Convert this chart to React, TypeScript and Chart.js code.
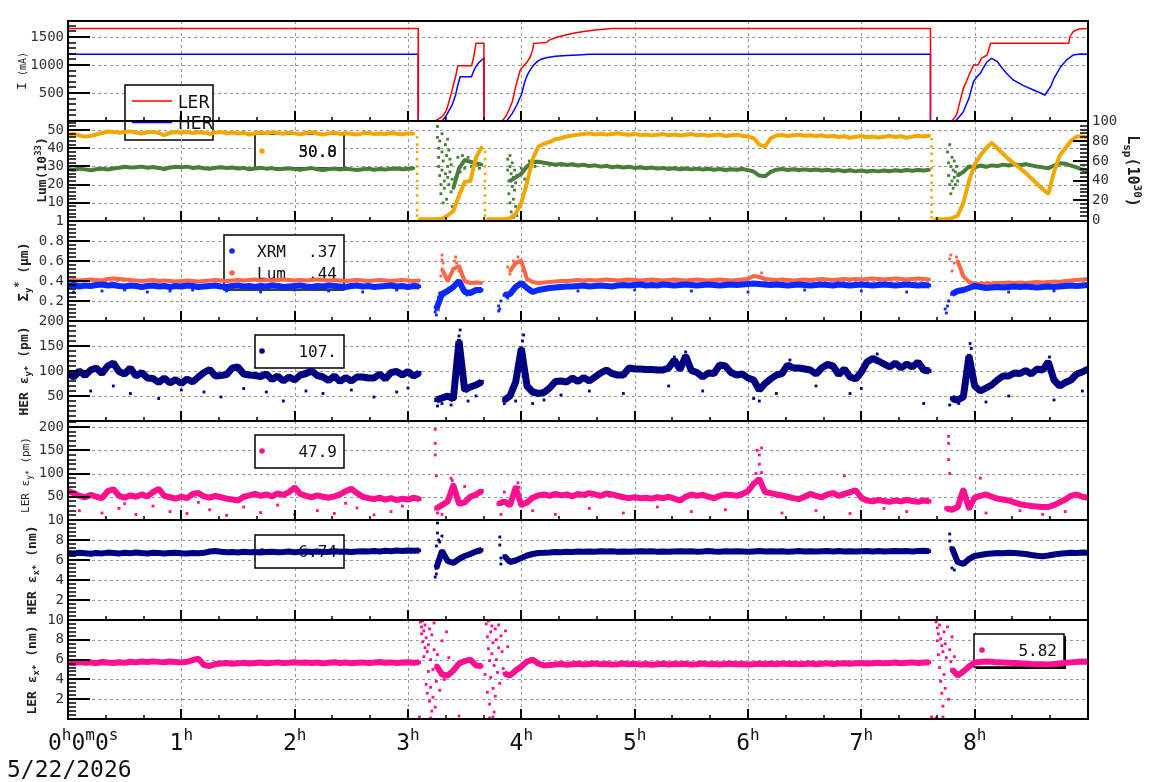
import React, { useEffect, useRef } from 'react';
import { Chart, registerables } from 'chart.js';

Chart.register(...registerables);

// ---------------------------------------------------------------- layout
const W = 1160;
const H = 782;
const PLOT_RIGHT = 1088;
const AXIS_W = 68;
const STEP_H = 0.05; // spacing of the sampled value lists (hours)

// ---------------------------------------------------------------- axis text
const HOUR_TICKS = [1, 2, 3, 4, 5, 6, 7, 8];
const HOUR_LABELS = ['1', '2', '3', '4', '5', '6', '7', '8'];
const START_LABEL = ['0', 'h', '0', 'm', '0', 's'];
const DATE_LABEL = '5/22/2026';

// ---------------------------------------------------------------- legend text
const CURRENT_NAMES = ['LER', 'HER'];
const LUM_LEGEND = ['50.0', '30.8'];
const SIZE_NAMES = ['XRM', 'Lum'];
const SIZE_LEGEND = ['.37', '.44'];
const HER_EY_LEGEND = '107.';
const LER_EY_LEGEND = '47.9';
const HER_EX_LEGEND = '6.74';
const LER_EX_LEGEND = '5.82';

// ---------------------------------------------------------------- panel 1: beam currents [hour, mA]
const LER_CURRENT = [
  [0, 1650], [3.09, 1650], [3.09, 0], [3.24, 0], [3.27, 40], [3.3, 77], [3.32, 130], [3.34, 196], [3.355, 300],
  [3.37, 405], [3.385, 520], [3.4, 643], [3.41, 720], [3.42, 791], [3.43, 890], [3.44, 988], [3.56, 988],
  [3.57, 1060], [3.58, 1149], [3.59, 1270], [3.6, 1387], [3.67, 1387], [3.67, 0], [3.83, 0], [3.85, 50],
  [3.87, 107], [3.895, 220], [3.92, 345], [3.935, 480], [3.95, 613], [3.97, 760], [3.99, 911], [4.02, 988],
  [4.05, 1050], [4.08, 1149], [4.1, 1270], [4.11, 1387], [4.22, 1400], [4.25, 1450], [4.32, 1500], [4.4, 1540],
  [4.47, 1570], [4.55, 1600], [4.65, 1625], [4.8, 1650], [7.61, 1650], [7.61, 0], [7.8, 0], [7.84, 107],
  [7.87, 345], [7.9, 583], [7.93, 720], [7.95, 821], [7.99, 1000], [8.03, 1000], [8.06, 1119], [8.11, 1179],
  [8.14, 1387], [8.83, 1387], [8.84, 1506], [8.87, 1595], [8.92, 1643], [9, 1650],
];
const HER_CURRENT = [
  [0, 1190], [3.09, 1190], [3.09, 0], [3.3, 0], [3.32, 50], [3.34, 107], [3.365, 200], [3.39, 286], [3.405, 380],
  [3.42, 464], [3.43, 560], [3.44, 643], [3.45, 720], [3.46, 791], [3.56, 791], [3.575, 870], [3.59, 940],
  [3.605, 990], [3.62, 1030], [3.645, 1080], [3.67, 1119], [3.67, 0], [3.87, 0], [3.895, 70], [3.92, 137],
  [3.94, 210], [3.96, 286], [3.98, 380], [4.0, 464], [4.015, 580], [4.03, 702], [4.045, 780], [4.06, 851],
  [4.085, 930], [4.11, 1000], [4.14, 1060], [4.17, 1100], [4.22, 1130], [4.3, 1155], [4.4, 1170], [4.5, 1180],
  [4.6, 1190], [7.61, 1190], [7.61, 0], [7.83, 0], [7.87, 90], [7.9, 166], [7.925, 290], [7.95, 405],
  [7.97, 560], [7.99, 702], [8.02, 790], [8.05, 851], [8.08, 960], [8.11, 1060], [8.15, 1119], [8.2, 1060],
  [8.24, 950], [8.28, 851], [8.34, 732], [8.43, 631], [8.52, 554], [8.62, 464], [8.67, 613], [8.7, 762],
  [8.73, 870], [8.76, 970], [8.81, 1089], [8.87, 1179], [8.93, 1196], [9, 1190],
];

// ---------------------------------------------------------------- panel 2: luminosity, segments [startHour, values every STEP_H]
const LUM_YELLOW = [
  [0, [47.3, 47.8, 47.0, 46.4, 46.8, 47.6, 48.4, 49.2, 49.0, 48.6,
    48.9, 49.3, 48.7, 48.1, 48.8, 49.0, 48.4, 47.2, 48.5, 48.9,
    48.6, 49.1, 48.3, 48.8, 48.5, 47.9, 48.6, 49.0, 48.3, 48.7,
    48.1, 48.5, 47.6, 48.3, 48.7, 48.2, 48.9, 48.4, 48.0, 48.6,
    48.2, 47.7, 48.4, 48.8, 48.1, 47.5, 48.2, 48.6, 47.9, 48.3,
    48.0, 47.6, 48.2, 48.5, 47.8, 48.1, 47.9, 48.4, 48.0, 47.7,
    48.2, 48.0]],
  [3.1, [1, 1, 1, 1, 1.3, 3, 5.5, 14, 21.5, 22, 35, 40.5]],
  [3.7, [1, 1, 1, 1, 1.5, 4, 10, 21, 34, 41, 42.5, 43.5, 45, 45.5, 46.5, 47, 47.5,
    47.8, 48.2, 47.6, 48.0, 47.5, 47.9, 48.3, 47.7, 47.4, 47.9,
    47.3, 47.6, 47.1, 47.5, 47.8, 47.2, 47.6, 47.0, 47.4, 47.8,
    47.2, 47.5, 46.9, 47.3, 47.6, 46.8, 47.2, 47.5, 46.9, 46.5,
    45.5, 42.0, 41.0, 45.5, 47.0, 47.3, 46.8, 47.2, 47.5, 46.9,
    47.2, 46.8, 47.1, 46.5, 46.9, 46.2, 46.6, 45.8, 46.3, 46.7,
    46.1, 46.5, 45.9, 46.3, 46.8, 46.2, 46.6, 45.8, 46.4, 46.9,
    46.5, 47.0]],
  [7.65, [1, 1, 1, 1.5, 3, 10, 22, 31, 36, 40, 43, 40, 37, 34, 31.5, 29, 26.5, 23.5, 20.5, 17.5,
    15, 27, 36, 40, 44, 46.5, 46.5, 46]],
];
const LUM_YELLOW_DROPS = [
  [3.08, 46], [3.08, 42], [3.08, 38], [3.08, 34], [3.08, 30], [3.08, 26], [3.08, 22], [3.08, 18], [3.08, 14],
  [3.08, 10], [3.08, 6], [3.08, 3], [3.68, 38], [3.68, 34], [3.68, 30], [3.68, 26], [3.68, 22], [3.68, 18],
  [3.68, 14], [3.68, 10], [3.68, 6], [3.68, 3], [7.62, 45], [7.62, 41], [7.62, 37], [7.62, 33], [7.62, 29],
  [7.62, 25], [7.62, 21], [7.62, 17], [7.62, 13], [7.62, 9], [7.62, 5], [7.62, 2],
];
const LUM_GREEN = [
  [0, [28.6, 28.2, 28.9, 28.4, 27.9, 28.5, 28.8, 28.3, 28.9, 29.3,
    29.8, 29.4, 29.6, 29.9, 29.3, 29.7, 29.2, 28.6, 29.4, 29.8,
    29.5, 29.9, 29.2, 29.6, 29.0, 28.7, 29.3, 29.6, 29.1, 29.4,
    28.9, 29.2, 28.5, 28.9, 29.3, 28.8, 29.1, 28.4, 28.7, 29.0,
    28.6, 28.2, 28.8, 29.1, 28.5, 28.1, 28.6, 28.9, 28.3, 28.7,
    28.4, 28.0, 28.5, 28.8, 28.2, 28.6, 28.3, 28.7, 28.9, 28.5,
    28.8, 29.0]],
  [3.4, [18, 29, 33.5, 32.6, 31.7, 31]],
  [3.9, [22, 24, 26, 30, 32.5, 32.6, 32, 31.5, 31,
    31.3, 30.8, 31.2, 30.5, 30.9, 30.2, 30.6, 29.9, 30.3, 29.6,
    30.0, 29.4, 29.8, 29.2, 29.6, 29.0, 29.4, 28.8, 29.2, 28.6,
    29.0, 28.5, 28.9, 28.4, 28.8, 28.3, 28.7, 28.2, 28.6, 28.1,
    28.5, 28.2, 28.6, 28.0, 27.2, 25.0, 24.6, 27.0, 28.2, 28.6,
    28.1, 28.5, 28.0, 28.4, 27.9, 28.3, 27.8, 28.2, 27.6, 28.0,
    27.4, 27.9, 27.3, 27.8, 27.2, 27.7, 27.3, 27.8, 27.4, 27.9,
    27.5, 28.0, 27.6, 28.1, 27.8, 28.2]],
  [7.85, [25, 27, 30, 29.5, 30.5, 29.8, 30.6, 30.2, 31, 30.5, 31.2, 30.7, 31.3, 30.6, 30.0, 29.5,
    29.0, 30.5, 31.7, 31.5, 30.5, 29.5, 28.2, 27.3]],
];
const LUM_GREEN_SCATTER = [
  [3.26, 52], [3.26, 46], [3.27, 40], [3.27, 35], [3.27, 30], [3.28, 44], [3.28, 25], [3.29, 20], [3.29, 15],
  [3.30, 38], [3.30, 28], [3.30, 48], [3.31, 10], [3.31, 33], [3.32, 22], [3.32, 18], [3.33, 42], [3.33, 26],
  [3.34, 36], [3.34, 12], [3.35, 30], [3.35, 24], [3.35, 45], [3.36, 39], [3.36, 20], [3.37, 34], [3.37, 27],
  [3.38, 16], [3.38, 31], [3.39, 23], [3.39, 8], [3.42, 24], [3.44, 35], [3.46, 27], [3.48, 36], [3.5, 29],
  [3.53, 35], [3.56, 30], [3.6, 34], [3.63, 29],
  [3.88, 34], [3.88, 28], [3.89, 22], [3.89, 15], [3.90, 30], [3.90, 10], [3.90, 36], [3.91, 26], [3.91, 5],
  [3.92, 32], [3.92, 19], [3.93, 24], [3.93, 12], [3.93, 2], [3.94, 28], [3.94, 17], [3.95, 21], [3.95, 8],
  [3.96, 25], [3.96, 3], [4.0, 29], [4.03, 23], [4.07, 33], [4.12, 30],
  [7.76, 38], [7.77, 32], [7.77, 25], [7.78, 42], [7.78, 20], [7.79, 30], [7.79, 15], [7.80, 35], [7.80, 22],
  [7.81, 28], [7.81, 18], [7.82, 33], [7.82, 24], [7.83, 27], [7.83, 20], [7.84, 30], [7.85, 22], [7.86, 26],
];

// ---------------------------------------------------------------- panel 3: vertical beam size (µm)
const SIZE_XRM = [
  [0, [0.35, 0.36, 0.345, 0.355, 0.35, 0.36, 0.365, 0.355, 0.36, 0.35,
    0.345, 0.355, 0.35, 0.34, 0.35, 0.355, 0.345, 0.35, 0.34, 0.35,
    0.345, 0.355, 0.35, 0.34, 0.345, 0.35, 0.355, 0.345, 0.34, 0.35,
    0.355, 0.345, 0.35, 0.34, 0.35, 0.345, 0.355, 0.35, 0.34, 0.345,
    0.35, 0.355, 0.345, 0.34, 0.35, 0.345, 0.355, 0.35, 0.345, 0.34,
    0.35, 0.355, 0.345, 0.35, 0.34, 0.345, 0.35, 0.355, 0.345, 0.35,
    0.34, 0.35, 0.345]],
  [3.25, [0.12, 0.27, 0.3, 0.34, 0.4, 0.29, 0.28, 0.31, 0.31]],
  [3.85, [0.26, 0.27, 0.34, 0.38, 0.33, 0.29, 0.31, 0.32, 0.33, 0.335, 0.34, 0.345,
    0.345, 0.35, 0.355, 0.345, 0.35, 0.355, 0.35, 0.345, 0.355, 0.36,
    0.355, 0.36, 0.365, 0.355, 0.36, 0.355, 0.365, 0.36, 0.355, 0.36,
    0.365, 0.36, 0.355, 0.36, 0.365, 0.36, 0.355, 0.36, 0.365, 0.36,
    0.365, 0.37, 0.375, 0.37, 0.365, 0.36, 0.365, 0.36, 0.355, 0.36,
    0.365, 0.36, 0.355, 0.36, 0.365, 0.36, 0.355, 0.365, 0.36, 0.355,
    0.36, 0.365, 0.36, 0.355, 0.36, 0.365, 0.36, 0.355, 0.36, 0.365,
    0.36, 0.355, 0.36, 0.355]],
  [7.8, [0.27, 0.3, 0.31, 0.33, 0.35, 0.34, 0.33, 0.335, 0.34, 0.335, 0.34, 0.345, 0.34, 0.345, 0.34,
    0.335, 0.34, 0.345, 0.34, 0.345, 0.35, 0.355, 0.35, 0.355, 0.36]],
];
const SIZE_LUM = [
  [0, [0.405, 0.41, 0.405, 0.41, 0.415, 0.41, 0.405, 0.42, 0.425, 0.42,
    0.415, 0.41, 0.405, 0.4, 0.405, 0.41, 0.4, 0.405, 0.4, 0.395,
    0.4, 0.405, 0.4, 0.395, 0.4, 0.405, 0.41, 0.405, 0.4, 0.405,
    0.41, 0.405, 0.41, 0.415, 0.405, 0.41, 0.405, 0.41, 0.415, 0.41,
    0.405, 0.41, 0.405, 0.41, 0.415, 0.41, 0.405, 0.41, 0.405, 0.4,
    0.405, 0.41, 0.405, 0.4, 0.405, 0.41, 0.405, 0.4, 0.405, 0.41,
    0.405, 0.4, 0.405]],
  [3.3, [0.52, 0.4, 0.52, 0.55, 0.4, 0.38, 0.385, 0.38]],
  [3.9, [0.5, 0.58, 0.6, 0.42, 0.39, 0.38, 0.385, 0.39, 0.395, 0.4, 0.4,
    0.405, 0.41, 0.405, 0.41, 0.405, 0.41, 0.415, 0.41, 0.405, 0.41,
    0.415, 0.41, 0.405, 0.41, 0.415, 0.41, 0.405, 0.41, 0.415, 0.41,
    0.405, 0.41, 0.415, 0.41, 0.405, 0.41, 0.415, 0.41, 0.405, 0.41,
    0.415, 0.42, 0.45, 0.44, 0.42, 0.415, 0.41, 0.415, 0.41, 0.405,
    0.41, 0.415, 0.41, 0.415, 0.42, 0.415, 0.41, 0.415, 0.42, 0.415,
    0.42, 0.415, 0.42, 0.425, 0.42, 0.415, 0.42, 0.425, 0.42, 0.415,
    0.42, 0.425, 0.42, 0.415]],
  [7.85, [0.6, 0.45, 0.39, 0.37, 0.37, 0.375, 0.375, 0.38, 0.38, 0.385, 0.38, 0.385, 0.38, 0.385,
    0.39, 0.385, 0.39, 0.395, 0.39, 0.4, 0.405, 0.41, 0.415, 0.42]],
];
const SIZE_XRM_SCATTER = [
  [0.05, 0.29], [0.3, 0.3], [0.5, 0.31], [0.7, 0.29], [0.9, 0.3], [1.1, 0.31], [1.4, 0.3], [1.7, 0.29],
  [2.0, 0.31], [2.3, 0.3], [2.6, 0.29], [2.9, 0.31], [3.24, 0.09], [3.24, 0.14], [3.25, 0.06], [3.26, 0.18],
  [3.27, 0.24], [3.28, 0.28], [3.29, 0.22], [3.32, 0.26], [3.36, 0.33], [3.42, 0.37], [3.47, 0.32],
  [3.52, 0.26], [3.58, 0.3], [3.8, 0.1], [3.8, 0.15], [3.81, 0.12], [3.82, 0.2], [3.88, 0.23], [3.93, 0.32],
  [4.03, 0.36], [4.5, 0.3], [5.0, 0.31], [5.5, 0.3], [6.0, 0.29], [6.5, 0.31], [7.0, 0.3], [7.4, 0.29],
  [7.74, 0.12], [7.75, 0.08], [7.76, 0.15], [7.77, 0.2], [8.3, 0.29], [8.7, 0.3],
];
const SIZE_LUM_SCATTER = [
  [3.27, 0.11], [3.28, 0.24], [3.29, 0.45], [3.3, 0.61], [3.3, 0.66], [3.31, 0.58], [3.33, 0.45], [3.37, 0.44],
  [3.39, 0.5], [3.41, 0.6], [3.42, 0.64], [3.43, 0.58], [3.45, 0.5], [3.47, 0.46], [3.88, 0.54], [3.9, 0.47],
  [3.93, 0.6], [3.97, 0.64], [3.98, 0.6], [4.02, 0.5], [6.12, 0.48], [7.78, 0.62], [7.79, 0.66], [7.8, 0.5],
  [7.82, 0.58], [7.84, 0.64], [7.86, 0.55], [7.88, 0.48],
];

// ---------------------------------------------------------------- panel 4: HER vertical emittance (pm)
const HER_EY = [
  [0, [95, 88, 100, 91, 102, 106, 95, 110, 116, 99,
    94, 106, 90, 97, 86, 85, 77, 86, 76, 83,
    75, 84, 78, 88, 97, 103, 90, 91, 93, 106,
    108, 94, 92, 91, 89, 94, 83, 90, 80, 88,
    82, 92, 95, 100, 91, 88, 81, 90, 79, 87,
    80, 88, 88, 86, 86, 94, 84, 97, 99, 92,
    99, 90, 96]],
  [3.25, [42, 46, 50, 44, 160, 62, 68, 72, 78]],
  [3.85, [42, 50, 78, 145, 70, 58, 55, 57, 66, 79, 80,
    78, 86, 79, 87, 80, 88, 96, 102, 95, 92,
    92, 106, 104, 104, 103, 103, 102, 102, 106, 122,
    103, 130, 101, 97, 88, 96, 95, 112, 110, 97,
    92, 94, 86, 82, 62, 75, 84, 92, 95, 112,
    106, 106, 104, 102, 94, 106, 113, 110, 93, 104,
    88, 84, 98, 118, 125, 120, 114, 108, 116, 106,
    114, 108, 118, 102, 100]],
  [7.8, [45, 42, 48, 130, 70, 60, 66, 72, 82, 90, 90, 96, 95, 101, 94, 104, 102, 118, 82, 70, 77, 82, 94, 98, 104]],
];
const HER_EY_SCATTER = [
  [0.2, 60], [0.4, 70], [0.55, 55], [0.8, 45], [1.0, 62], [1.2, 58], [1.35, 48], [1.55, 65], [1.75, 58],
  [1.9, 40], [2.1, 60], [2.25, 55], [2.5, 62], [2.7, 48], [2.9, 58], [3.0, 66], [3.26, 30], [3.3, 35],
  [3.38, 32], [3.43, 100], [3.44, 130], [3.45, 170], [3.46, 182], [3.46, 140], [3.47, 115], [3.53, 40],
  [3.6, 50], [3.85, 35], [3.95, 40], [4.01, 160], [4.02, 172], [4.02, 140], [4.1, 35], [4.2, 42], [4.35, 52],
  [4.6, 60], [4.9, 55], [5.3, 70], [5.35, 128], [5.45, 138], [5.6, 60], [6.05, 45], [6.1, 40], [6.25, 55],
  [6.37, 122], [6.6, 70], [6.9, 55], [7.0, 65], [7.14, 134], [7.55, 35], [7.78, 32], [7.86, 35], [7.95, 120],
  [7.96, 155], [7.97, 145], [8.1, 38], [8.3, 50], [8.66, 128], [8.7, 42], [8.95, 60],
];

// ---------------------------------------------------------------- panel 5: LER vertical emittance (pm)
const LER_EY = [
  [0, [62, 58, 52, 49, 54, 50, 47, 62, 66, 52,
    48, 53, 50, 55, 51, 60, 67, 52, 49, 46,
    50, 47, 56, 58, 51, 48, 52, 49, 46, 44,
    42, 50, 53, 56, 52, 55, 51, 57, 54, 60,
    70, 56, 52, 49, 53, 50, 48, 51, 55, 62,
    67, 58, 50, 47, 45, 48, 44, 47, 43, 46,
    44, 48, 45]],
  [3.25, [25, 32, 40, 75, 35, 38, 50, 55, 62]],
  [3.8, [35, 40, 32, 70, 32, 38, 48, 53, 55,
    52, 56, 53, 55, 51, 56, 54, 58, 55, 52,
    57, 55, 52, 49, 47, 49, 47, 48, 46, 49,
    47, 50, 46, 42, 50, 55, 52, 54, 50, 47,
    52, 55, 54, 52, 56, 62, 78, 88, 60, 58,
    55, 53, 50, 47, 45, 50, 56, 52, 49, 55,
    58, 52, 56, 60, 64, 48, 42, 40, 43, 41,
    39, 42, 40, 43, 41, 39, 42, 40]],
  [7.75, [25, 22, 28, 65, 25, 48, 52, 55, 50, 46, 44, 42, 38, 34, 32, 30, 29, 28, 28, 32, 38, 44, 52, 55, 50, 48]],
];
const LER_EY_SCATTER = [
  [0.1, 20], [0.3, 15], [0.45, 25], [0.5, 35], [0.6, 12], [0.75, 30], [0.9, 18], [1.05, 14], [1.15, 38],
  [1.25, 22], [1.4, 10], [1.55, 28], [1.7, 16], [1.85, 32], [2.0, 12], [2.2, 20], [2.35, 14], [2.45, 36],
  [2.55, 26], [2.7, 11], [2.85, 18], [2.95, 30], [3.24, 195], [3.24, 165], [3.24, 140], [3.25, 95], [3.26, 15],
  [3.3, 12], [3.38, 90], [3.39, 85], [3.5, 72], [3.82, 12], [3.85, 60], [3.97, 80], [3.98, 70], [4.1, 20],
  [4.3, 12], [4.6, 25], [4.9, 15], [5.2, 28], [5.5, 18], [5.8, 22], [6.07, 100], [6.08, 150], [6.1, 140],
  [6.1, 120], [6.12, 155], [6.12, 102], [6.3, 15], [6.6, 20], [6.85, 95], [6.9, 14], [7.2, 25], [7.4, 18],
  [7.77, 180], [7.77, 165], [7.77, 130], [7.78, 100], [8.05, 90], [8.1, 15], [8.4, 20], [8.6, 12], [8.8, 18],
];

// ---------------------------------------------------------------- panel 6: HER horizontal emittance (nm)
const HER_EX = [
  [0, [6.7, 6.65, 6.72, 6.68, 6.62, 6.7, 6.66, 6.74, 6.7, 6.64,
    6.72, 6.68, 6.75, 6.7, 6.66, 6.72, 6.69, 6.64, 6.7, 6.73,
    6.68, 6.66, 6.71, 6.67, 6.72, 6.85, 6.9, 6.82, 6.78, 6.8,
    6.76, 6.82, 6.78, 6.8, 6.75, 6.79, 6.83, 6.77, 6.8, 6.84,
    6.78, 6.82, 6.86, 6.8, 6.84, 6.79, 6.82, 6.87, 6.83, 6.85,
    6.8, 6.84, 6.88, 6.85, 6.9, 6.86, 6.92, 6.88, 6.94, 6.9,
    6.95, 6.92, 6.96]],
  [3.25, [5.2, 6.9, 5.9, 5.7, 6.1, 6.4, 6.6, 6.85, 7.0]],
  [3.85, [6.4, 5.8, 5.95, 6.2, 6.45, 6.6, 6.7, 6.72,
    6.75, 6.8, 6.78, 6.83, 6.8, 6.85, 6.82, 6.86, 6.83, 6.88,
    6.84, 6.87, 6.83, 6.86, 6.82, 6.85, 6.88, 6.84, 6.87, 6.83,
    6.86, 6.82, 6.85, 6.88, 6.84, 6.87, 6.83, 6.86, 6.9, 6.86,
    6.83, 6.87, 6.84, 6.88, 6.85, 6.82, 6.86, 6.89, 6.85, 6.88,
    6.84, 6.87, 6.83, 6.86, 6.89, 6.85, 6.88, 6.84, 6.87, 6.9,
    6.86, 6.89, 6.85, 6.88, 6.84, 6.87, 6.9, 6.86, 6.89, 6.85,
    6.88, 6.91, 6.87, 6.9, 6.86, 6.89, 6.92, 6.88]],
  [7.8, [7.2, 5.8, 5.6, 6.1, 6.4, 6.5, 6.6, 6.65, 6.7, 6.68, 6.72, 6.7, 6.66, 6.6, 6.5, 6.42, 6.38, 6.45,
    6.55, 6.62, 6.68, 6.72, 6.7, 6.74, 6.72]],
];
const HER_EX_SCATTER = [
  [3.24, 4.3], [3.25, 4.6], [3.26, 8.7], [3.26, 9.7], [3.27, 8.0], [3.25, 7.4], [3.28, 7.8], [3.3, 8.4],
  [3.81, 8.3], [3.81, 7.5], [3.82, 5.6], [3.82, 6.2], [7.78, 8.6], [7.78, 7.9], [7.79, 7.2], [7.8, 5.2], [7.82, 5.0],
];

// ---------------------------------------------------------------- panel 7: LER horizontal emittance (nm)
const LER_EX = [
  [0, [5.7, 5.65, 5.75, 5.68, 5.72, 5.64, 5.76, 5.7, 5.66, 5.74,
    5.69, 5.78, 5.72, 5.8, 5.75, 5.82, 5.77, 5.74, 5.8, 5.76,
    5.72, 5.78, 5.95, 6.1, 5.45, 5.35, 5.55, 5.6, 5.65, 5.58,
    5.62, 5.68, 5.6, 5.66, 5.7, 5.63, 5.67, 5.72, 5.65, 5.69,
    5.74, 5.67, 5.71, 5.65, 5.7, 5.62, 5.68, 5.73, 5.66, 5.7,
    5.64, 5.69, 5.72, 5.66, 5.7, 5.75, 5.68, 5.72, 5.66, 5.7,
    5.74, 5.68, 5.72]],
  [3.25, [5.4, 4.5, 4.4, 4.9, 5.6, 5.85, 6.0, 5.4, 5.35]],
  [3.85, [4.6, 4.4, 4.9, 5.3, 5.8, 6.0, 5.6, 5.4,
    5.45, 5.5, 5.55, 5.48, 5.52, 5.58, 5.5, 5.55, 5.6, 5.52,
    5.56, 5.5, 5.54, 5.6, 5.52, 5.57, 5.5, 5.55, 5.48, 5.53,
    5.58, 5.5, 5.55, 5.52, 5.57, 5.5, 5.54, 5.6, 5.52, 5.56,
    5.5, 5.55, 5.58, 5.52, 5.56, 5.5, 5.54, 5.58, 5.52, 5.57,
    5.53, 5.6, 5.55, 5.58, 5.52, 5.56, 5.6, 5.54, 5.58, 5.62,
    5.56, 5.6, 5.64, 5.58, 5.62, 5.66, 5.6, 5.64, 5.68, 5.62,
    5.66, 5.7, 5.64, 5.68, 5.72, 5.66, 5.7, 5.74]],
  [7.8, [5.0, 4.4, 4.8, 5.3, 5.7, 5.75, 5.8, 5.78, 5.72, 5.7, 5.68, 5.66, 5.62, 5.6, 5.56, 5.54, 5.52, 5.5,
    5.56, 5.62, 5.68, 5.72, 5.76, 5.8, 5.78]],
];
const LER_EX_SCATTER = [
  [3.11, 9.8], [3.12, 9.3], [3.12, 8.6], [3.13, 9.9], [3.13, 7.8], [3.14, 8.9], [3.14, 6.3], [3.15, 7.2],
  [3.15, 9.5], [3.16, 3.5], [3.16, 8.2], [3.17, 6.8], [3.17, 2.6], [3.18, 7.5], [3.18, 4.8], [3.19, 9.1],
  [3.19, 1.8], [3.2, 6.0], [3.2, 3.2], [3.21, 8.5], [3.21, 0.8], [3.22, 5.0], [3.22, 2.2], [3.23, 7.0],
  [3.23, 9.7], [3.24, 1.2], [3.25, 3.8], [3.26, 6.5], [3.28, 2.9], [3.3, 7.9], [3.32, 4.0], [3.34, 8.8],
  [3.36, 6.2], [3.1, 0.2], [3.2, 0.1], [3.45, 0.3],
  [3.68, 4.5], [3.69, 9.6], [3.7, 8.3], [3.7, 2.7], [3.71, 9.9], [3.71, 7.1], [3.72, 5.9], [3.72, 1.5],
  [3.73, 8.8], [3.73, 4.2], [3.74, 9.4], [3.74, 6.6], [3.75, 3.1], [3.75, 7.7], [3.76, 0.7], [3.76, 5.4],
  [3.77, 9.1], [3.77, 2.3], [3.78, 8.0], [3.78, 6.0], [3.79, 4.7], [3.8, 9.5], [3.8, 7.2], [3.81, 3.6],
  [3.82, 8.4], [3.83, 6.8], [3.84, 5.1], [3.86, 8.9], [3.88, 7.3], [3.72, 0.1], [3.75, 0.2],
  [7.62, 0.2], [7.66, 9.8], [7.67, 9.2], [7.67, 7.9], [7.68, 8.6], [7.68, 6.5], [7.69, 9.5], [7.69, 5.2],
  [7.7, 8.1], [7.7, 3.8], [7.71, 7.4], [7.71, 2.6], [7.72, 6.8], [7.72, 1.3], [7.73, 8.8], [7.73, 4.5],
  [7.74, 7.6], [7.74, 3.1], [7.75, 6.2], [7.76, 9.3], [7.77, 2.0], [7.78, 7.0], [7.79, 5.8], [7.8, 8.3],
  [7.82, 6.3], [7.66, 0.1], [7.72, 0.2],
];

// ---------------------------------------------------------------- colours / fonts
const RED = '#ff0000';
const BLUE = '#0000ff';
const YELLOW = '#f0a800';
const GREEN = '#4a7d3a';
const XRM_BLUE = '#0a28ff';
const LUM_ORANGE = '#ff6646';
const NAVY = '#000080';
const PINK = '#ff1090';
const GRID = '#9a9a9a';
const MONO = '"DejaVu Sans Mono", monospace';
const fnt = (size: number, bold = false) => `${bold ? 'bold ' : ''}${size}px ${MONO}`;

// ---------------------------------------------------------------- helpers
type Seg = { t: string; f: string; dy?: number };
type P = { x: number; y: number | null };

function segPoints(segs: any[]): P[] {
  const pts: P[] = [];
  segs.forEach(([t0, vals]: [number, number[]], k: number) => {
    if (k > 0) pts.push({ x: t0 - STEP_H / 2, y: null });
    vals.forEach((v, i) => pts.push({ x: Math.round((t0 + i * STEP_H) * 1000) / 1000, y: v }));
  });
  return pts;
}
const pairs = (arr: number[][]): P[] => arr.map(([x, y]) => ({ x, y }));

const band = (segs: any[], color: string, width = 3, radius = 1.8) => ({
  type: 'line', data: segPoints(segs), borderColor: color, backgroundColor: color, borderWidth: width,
  pointRadius: radius, pointStyle: 'rect', pointBorderWidth: 0, pointHoverRadius: 0,
  spanGaps: false, tension: 0, fill: false, borderJoinStyle: 'bevel',
});
const dots = (arr: number[][], color: string, radius = 2) => ({
  type: 'line', data: pairs(arr), showLine: false, borderColor: color, backgroundColor: color,
  pointRadius: radius, pointStyle: 'rect', pointBorderWidth: 0, pointHoverRadius: 0,
});
const rampLine = (arr: number[][], color: string) => ({
  type: 'line', data: pairs(arr), borderColor: color, backgroundColor: color, borderWidth: 1.5,
  pointRadius: 0, fill: false, tension: 0,
});

function richWidth(ctx: CanvasRenderingContext2D, segs: Seg[]) {
  let w = 0;
  for (const s of segs) { ctx.font = s.f; w += ctx.measureText(s.t).width; }
  return w;
}
function drawRich(ctx: CanvasRenderingContext2D, segs: Seg[], x: number, y: number, rot: number,
  align: 'left' | 'center', color: string) {
  ctx.save();
  ctx.translate(x, y);
  ctx.rotate(rot);
  ctx.fillStyle = color;
  ctx.textAlign = 'left';
  ctx.textBaseline = 'alphabetic';
  let cx = align === 'center' ? -richWidth(ctx, segs) / 2 : 0;
  for (const s of segs) {
    ctx.font = s.f;
    ctx.fillText(s.t, cx, s.dy || 0);
    cx += ctx.measureText(s.t).width;
  }
  ctx.restore();
}
function box(ctx: CanvasRenderingContext2D, x: number, y: number, w: number, h: number, shadow = false) {
  ctx.save();
  ctx.setLineDash([]);
  if (shadow) { ctx.fillStyle = '#000'; ctx.fillRect(x + 2, y + 2, w, h); }
  ctx.fillStyle = '#fff';
  ctx.fillRect(x, y, w, h);
  ctx.strokeStyle = '#000';
  ctx.lineWidth = 1.5;
  ctx.strokeRect(x, y, w, h);
  ctx.restore();
}
function dot(ctx: CanvasRenderingContext2D, x: number, y: number, color: string) {
  ctx.save();
  ctx.fillStyle = color;
  ctx.beginPath();
  ctx.arc(x, y, 2.8, 0, Math.PI * 2);
  ctx.fill();
  ctx.restore();
}
function text(ctx: CanvasRenderingContext2D, s: string, x: number, y: number, align: CanvasTextAlign,
  font = fnt(16), color = '#111') {
  ctx.save();
  ctx.font = font;
  ctx.fillStyle = color;
  ctx.textAlign = align;
  ctx.textBaseline = 'alphabetic';
  ctx.fillText(s, x, y);
  ctx.restore();
}

// ---------------------------------------------------------------- panel definitions
type Axis = { min: number; max: number; major: number[]; minor: number };
type PanelDef = {
  top: number; bottom: number; y: Axis; right?: Axis; datasets: any[];
  legend: (ctx: CanvasRenderingContext2D) => void;
  title: Seg[]; titleX: number; titleY: number; last?: boolean;
};

const subY = (f1: string, f2: string, head: string, sub: string, tail: string): Seg[] =>
  [{ t: head, f: f1 }, { t: sub, f: f2, dy: 3 }, { t: tail, f: f1 }];

const PANELS: PanelDef[] = [
  {
    top: 21, bottom: 121,
    y: { min: 0, max: 1786, major: [500, 1000, 1500], minor: 100 },
    datasets: [rampLine(LER_CURRENT, RED), rampLine(HER_CURRENT, BLUE)],
    legend: (ctx) => {
      box(ctx, 125, 85, 88, 55);
      ctx.save();
      ctx.lineWidth = 1.5;
      ctx.strokeStyle = RED; ctx.beginPath(); ctx.moveTo(132, 101); ctx.lineTo(172, 101); ctx.stroke();
      ctx.strokeStyle = BLUE; ctx.beginPath(); ctx.moveTo(132, 122.5); ctx.lineTo(172, 122.5); ctx.stroke();
      ctx.restore();
      text(ctx, CURRENT_NAMES[0], 178, 108, 'left', '17px "DejaVu Sans", sans-serif');
      text(ctx, CURRENT_NAMES[1], 178, 129, 'left', '17px "DejaVu Sans", sans-serif');
    },
    title: [{ t: 'I', f: fnt(13) }, { t: ' (mA)', f: fnt(10) }], titleX: 26, titleY: 71,
  },
  {
    top: 121, bottom: 221,
    y: { min: 0, max: 55, major: [10, 20, 30, 40, 50], minor: 2 },
    right: { min: -1, max: 100.7, major: [0, 20, 40, 60, 80, 100], minor: 4 },
    datasets: [band(LUM_YELLOW, YELLOW, 4, 2), dots(LUM_YELLOW_DROPS, YELLOW, 1.8),
      band(LUM_GREEN, GREEN, 4, 2), dots(LUM_GREEN_SCATTER, GREEN, 2)],
    legend: (ctx) => {
      box(ctx, 255, 134, 89, 34);
      dot(ctx, 262, 151, YELLOW);
      text(ctx, LUM_LEGEND[1], 337, 157, 'right');
      text(ctx, LUM_LEGEND[0], 337, 157, 'right');
    },
    title: [{ t: 'Lum(10', f: fnt(13, true) }, { t: '33', f: fnt(9, true), dy: -5 }, { t: ')', f: fnt(13, true) }],
    titleX: 46, titleY: 170,
  },
  {
    top: 221, bottom: 321,
    y: { min: 0, max: 1, major: [0.2, 0.4, 0.6, 0.8, 1], minor: 0.04 },
    datasets: [band(SIZE_XRM, XRM_BLUE, 6, 2.5), dots(SIZE_XRM_SCATTER, XRM_BLUE, 2),
      band(SIZE_LUM, LUM_ORANGE, 4, 2), dots(SIZE_LUM_SCATTER, LUM_ORANGE, 2)],
    legend: (ctx) => {
      box(ctx, 224, 235, 120, 55);
      dot(ctx, 232, 251, XRM_BLUE);
      dot(ctx, 232, 273, LUM_ORANGE);
      text(ctx, SIZE_NAMES[0], 257, 257, 'left');
      text(ctx, SIZE_NAMES[1], 257, 279, 'left');
      text(ctx, SIZE_LEGEND[0], 337, 257, 'right');
      text(ctx, SIZE_LEGEND[1], 337, 279, 'right');
    },
    title: [{ t: 'Σ', f: fnt(14, true) }, { t: 'y', f: fnt(9, true), dy: 3 }, { t: '*', f: fnt(10, true), dy: -6 },
      { t: ' (μm)', f: fnt(13, true) }],
    titleX: 28, titleY: 272,
  },
  {
    top: 321, bottom: 421,
    y: { min: 0, max: 200, major: [50, 100, 150, 200], minor: 10 },
    datasets: [band(HER_EY, NAVY, 7, 3), dots(HER_EY_SCATTER, NAVY, 2)],
    legend: (ctx) => {
      box(ctx, 255, 335, 89, 33);
      dot(ctx, 262, 351, NAVY);
      text(ctx, HER_EY_LEGEND, 337, 357, 'right');
    },
    title: subY(fnt(13, true), fnt(9, true), 'HER ε', 'y*', ' (pm)'), titleX: 28, titleY: 371,
  },
  {
    top: 421, bottom: 520,
    y: { min: 0, max: 213, major: [50, 100, 150, 200], minor: 10 },
    datasets: [band(LER_EY, PINK, 6, 3), dots(LER_EY_SCATTER, PINK, 2)],
    legend: (ctx) => {
      box(ctx, 255, 435, 89, 33);
      dot(ctx, 262, 451, PINK);
      text(ctx, LER_EY_LEGEND, 337, 457, 'right');
    },
    title: subY(fnt(11), fnt(8), 'LER ε', 'y*', ' (pm)'), titleX: 29, titleY: 475,
  },
  {
    top: 520, bottom: 620,
    y: { min: 0, max: 10, major: [2, 4, 6, 8, 10], minor: 0.4 },
    datasets: [band(HER_EX, NAVY, 6, 2.5), dots(HER_EX_SCATTER, NAVY, 2)],
    legend: (ctx) => {
      box(ctx, 255, 535, 89, 33);
      dot(ctx, 262, 551, NAVY);
      text(ctx, HER_EX_LEGEND, 337, 557, 'right');
    },
    title: subY(fnt(13, true), fnt(9, true), 'HER ε', 'x*', ' (nm)'), titleX: 36, titleY: 570,
  },
  {
    top: 620, bottom: 719,
    y: { min: 0, max: 10, major: [2, 4, 6, 8, 10], minor: 0.4 },
    datasets: [band(LER_EX, PINK, 6, 2.5), dots(LER_EX_SCATTER, PINK, 2)],
    legend: (ctx) => {
      box(ctx, 974, 634, 90, 33, true);
      dot(ctx, 982, 650, PINK);
      text(ctx, LER_EX_LEGEND, 1057, 656, 'right');
    },
    title: subY(fnt(13, true), fnt(9, true), 'LER ε', 'x*', ' (nm)'), titleX: 36, titleY: 670,
    last: true,
  },
];

const RIGHT_TITLE: Seg[] = [
  { t: 'L', f: fnt(15, true) }, { t: 'sp', f: fnt(11, true), dy: 4 }, { t: '(10', f: fnt(15, true) },
  { t: '30', f: fnt(11, true), dy: -6 }, { t: ')', f: fnt(15, true) },
];

// ---------------------------------------------------------------- drawing plugin
function line(ctx: CanvasRenderingContext2D, x1: number, y1: number, x2: number, y2: number) {
  ctx.beginPath(); ctx.moveTo(x1, y1); ctx.lineTo(x2, y2); ctx.stroke();
}

function axisTicks(ctx: CanvasRenderingContext2D, scale: any, ax: Axis, area: any, side: 'left' | 'right',
  majorLen: number) {
  const n0 = Math.ceil(ax.min / ax.minor - 1e-6);
  const n1 = Math.floor(ax.max / ax.minor + 1e-6);
  for (let n = n0; n <= n1; n++) {
    const v = n * ax.minor;
    const y = scale.getPixelForValue(v);
    if (y <= area.top + 1 || y >= area.bottom - 1) continue;
    const isMajor = ax.major.some((m) => Math.abs(m - v) < ax.minor * 0.01);
    const len = isMajor ? majorLen : 8;
    ctx.lineWidth = isMajor ? 2 : 1.5;
    const yy = Math.round(y);
    if (side === 'left') line(ctx, area.left, yy, area.left + len, yy);
    else line(ctx, area.right, yy, area.right - len, yy);
  }
}

function panelPlugin(def: PanelDef, idx: number) {
  return {
    id: 'panelDecor' + idx,
    beforeDatasetsDraw(chart: any) {
      const { ctx, chartArea: a, scales } = chart;
      ctx.save();
      ctx.strokeStyle = GRID;
      ctx.lineWidth = 1;
      ctx.setLineDash([3, 3]);
      for (const h of HOUR_TICKS) {
        const x = Math.round(scales.x.getPixelForValue(h)) + 0.5;
        line(ctx, x, a.top, x, a.bottom);
      }
      for (const v of def.y.major) {
        const y = Math.round(scales.y.getPixelForValue(v)) + 0.5;
        if (y < a.top + 2 || y > a.bottom - 2) continue;
        line(ctx, a.left, y, a.right, y);
      }
      ctx.restore();
      def.legend(ctx);
    },
    afterDatasetsDraw(chart: any) {
      const { ctx, chartArea: a, scales } = chart;
      ctx.save();
      ctx.setLineDash([]);
      ctx.strokeStyle = '#000';
      for (let k = 1; k < 27; k++) {
        const x = Math.round(scales.x.getPixelForValue(k / 3));
        const major = k % 3 === 0;
        ctx.lineWidth = major ? 2 : 1.5;
        line(ctx, x, a.bottom, x, a.bottom - (major ? 10 : 4));
      }
      axisTicks(ctx, scales.y, def.y, a, 'left', 22);
      if (def.right) axisTicks(ctx, scales.y2, def.right, a, 'right', 15);
      ctx.lineWidth = 2;
      ctx.strokeRect(a.left, a.top, a.right - a.left, a.bottom - a.top);
      ctx.restore();
    },
    afterDraw(chart: any) {
      const { ctx, scales } = chart;
      drawRich(ctx, def.title, def.titleX, def.titleY, -Math.PI / 2, 'center', '#222');
      if (def.right) drawRich(ctx, RIGHT_TITLE, 1128, 171, Math.PI / 2, 'center', '#222');
      if (def.last) {
        const big = fnt(23);
        const sup = fnt(16);
        HOUR_TICKS.forEach((h, i) => {
          const x = scales.x.getPixelForValue(h);
          drawRich(ctx, [{ t: HOUR_LABELS[i], f: big }, { t: 'h', f: sup, dy: -10 }], x, 750, 0, 'center', '#111');
        });
        drawRich(ctx, START_LABEL.map((s, i) => ({ t: s, f: i % 2 ? sup : big, dy: i % 2 ? -10 : 0 })),
          48, 750, 0, 'left', '#111');
        text(ctx, DATE_LABEL, 7, 777, 'left', big);
      }
    },
  };
}

function yScale(ax: Axis, position: 'left' | 'right') {
  return {
    type: 'linear',
    position,
    min: ax.min,
    max: ax.max,
    afterFit: (s: any) => { s.width = position === 'left' ? AXIS_W : W - PLOT_RIGHT; },
    afterBuildTicks: (s: any) => { s.ticks = ax.major.map((v) => ({ value: v })); },
    grid: { display: false, drawTicks: false },
    border: { display: false },
    ticks: {
      autoSkip: false,
      padding: 4,
      color: '#333',
      font: { family: '"DejaVu Sans Mono", monospace', size: 14 },
      callback: (v: number) => String(v),
    },
  };
}

function buildConfig(def: PanelDef, idx: number): any {
  const scales: any = {
    x: { type: 'linear', min: 0, max: 9, display: false },
    y: yScale(def.y, 'left'),
  };
  if (def.right) scales.y2 = yScale(def.right, 'right');
  return {
    type: 'line',
    data: { datasets: def.datasets },
    options: {
      animation: false,
      responsive: false,
      devicePixelRatio: 1,
      events: [],
      layout: {
        padding: { left: 0, right: def.right ? 0 : W - PLOT_RIGHT, top: def.top, bottom: H - def.bottom },
      },
      plugins: { legend: { display: false }, tooltip: { enabled: false }, title: { display: false } },
      scales,
    },
    plugins: [panelPlugin(def, idx)],
  };
}

export default function App() {
  const refs = useRef<(HTMLCanvasElement | null)[]>([]);
  useEffect(() => {
    const charts = PANELS.map((def, i) => new Chart(refs.current[i] as HTMLCanvasElement, buildConfig(def, i)));
    return () => charts.forEach((c) => c.destroy());
  }, []);
  return (
    <div style={{ position: 'fixed', left: 0, top: 0, width: W, height: H, background: '#fff' }}>
      {PANELS.map((_, i) => (
        <canvas
          key={i}
          ref={(el) => { refs.current[i] = el; }}
          width={W}
          height={H}
          style={{ position: 'absolute', left: 0, top: 0, width: W, height: H }}
        />
      ))}
    </div>
  );
}
